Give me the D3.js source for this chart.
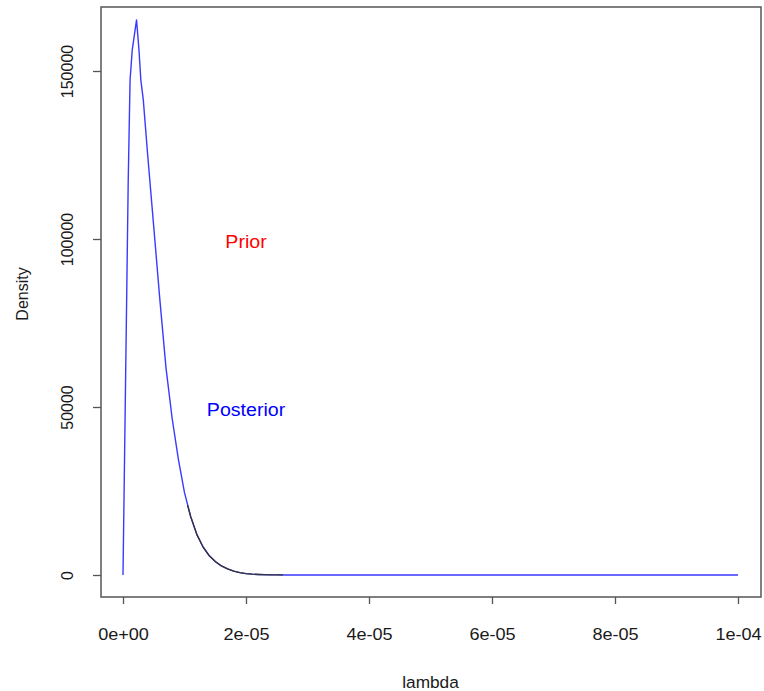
<!DOCTYPE html>
<html>
<head>
<meta charset="utf-8">
<script src="https://cdn.jsdelivr.net/npm/d3@7"></script>
<style>
  html, body { margin: 0; padding: 0; background: #fff; }
  svg { display: block; }
  text { font-family: "Liberation Sans", Arial, sans-serif; fill: #1a1a1a; }
</style>
</head>
<body>
<svg id="chart" width="764" height="691"></svg>
<script>
// ---- data ----
const lambda = [0, 0.85e-6, 1.15e-6, 1.5e-6, 2.2e-6, 2.6e-6, 2.9e-6, 3.3e-6, 4e-6, 5e-6,
  6e-6, 7e-6, 8e-6, 9e-6, 10e-6, 11e-6, 12e-6, 13e-6, 14e-6, 15e-6, 16e-6, 17e-6,
  18e-6, 19e-6, 20e-6, 21e-6, 22e-6, 23e-6, 24e-6, 25e-6, 26e-6,
  30e-6, 40e-6, 50e-6, 60e-6, 70e-6, 80e-6, 90e-6, 100e-6];
const posterior = [0, 117500, 147300, 156200, 165200, 156200, 147300, 141400, 125300, 103600,
  81800, 61500, 46500, 34500, 24500, 17400, 12100, 8400, 5800, 4000, 2700, 1800,
  1150, 700, 420, 250, 150, 90, 50, 25, 10,
  0, 0, 0, 0, 0, 0, 0, 0];
// prior curve (drawn in black), visible over the tail
const priorLambda = [10.5e-6, 11e-6, 12e-6, 13e-6, 14e-6, 15e-6, 16e-6, 17e-6, 18e-6,
  19e-6, 20e-6, 21e-6, 22e-6, 23e-6, 24e-6, 25e-6, 26e-6];
const prior = [20800, 17400, 12100, 8400, 5800, 4000, 2700, 1800, 1150,
  700, 420, 250, 150, 90, 50, 25, 10];
const xTicks = [0, 2e-5, 4e-5, 6e-5, 8e-5, 1e-4];
const xTickLabels = ["0e+00", "2e-05", "4e-05", "6e-05", "8e-05", "1e-04"];
const yTicks = [0, 50000, 100000, 150000];
const yTickLabels = ["0", "50000", "100000", "150000"];
const annotations = [
  { x: 2e-5, y: 100000, text: "Prior", color: "#ff0000" },
  { x: 2e-5, y: 50000, text: "Posterior", color: "#0000ff" }
];

// ---- layout ----
const box = { left: 101, right: 761, top: 7, bottom: 597 };
const svg = d3.select("#chart");

const x = d3.scaleLinear().domain([0, 1e-4]).range([123, 738]);
const y = d3.scaleLinear().domain([0, 150000]).range([575, 71]);

// frame
svg.append("rect")
  .attr("x", box.left).attr("y", box.top)
  .attr("width", box.right - box.left).attr("height", box.bottom - box.top)
  .attr("fill", "none").attr("stroke", "#555").attr("stroke-width", 1.5);

// x axis
const xAxis = d3.axisBottom(x).tickValues(xTicks)
  .tickFormat((d, i) => xTickLabels[i]).tickSizeOuter(0).tickSize(7).tickPadding(0);
const gx = svg.append("g").attr("transform", `translate(0,${box.bottom})`).call(xAxis);
gx.select(".domain").attr("stroke-opacity", 0);
gx.selectAll(".tick line").attr("stroke", "#555").attr("stroke-width", 1.3);
gx.selectAll(".tick text")
  .attr("font-size", 16).attr("fill", "#1a1a1a")
  .attr("font-family", "Liberation Sans, Arial, sans-serif")
  .attr("y", null).attr("dy", null)
  .attr("dominant-baseline", "central")
  .attr("transform", "translate(0,37) scale(1.13,1.05)");

// y axis
const yAxis = d3.axisLeft(y).tickValues(yTicks)
  .tickFormat((d, i) => yTickLabels[i]).tickSizeOuter(0).tickSize(8).tickPadding(0);
const gy = svg.append("g").attr("transform", `translate(${box.left},0)`).call(yAxis);
gy.select(".domain").attr("stroke-opacity", 0);
gy.selectAll(".tick line").attr("stroke", "#555").attr("stroke-width", 1.3);
gy.selectAll(".tick text")
  .attr("font-size", 16).attr("fill", "#1a1a1a")
  .attr("font-family", "Liberation Sans, Arial, sans-serif")
  .attr("text-anchor", "middle").attr("dy", null).attr("x", null)
  .attr("transform", "translate(-34,0) rotate(-90)")
  .attr("dominant-baseline", "central");

// axis titles
svg.append("text")
  .attr("transform", `translate(${(x(0) + x(1e-4)) / 2},683) scale(1.08,1.05)`)
  .attr("text-anchor", "middle").attr("dominant-baseline", "central")
  .attr("font-size", 16).text("lambda");
svg.append("text")
  .attr("transform", `translate(22,${(box.top + box.bottom) / 2 - 8}) rotate(-90)`)
  .attr("text-anchor", "middle").attr("dominant-baseline", "central")
  .attr("font-size", 16).text("Density");

// curves
const line = d3.line().x(d => x(d[0])).y(d => y(d[1]));
svg.append("path")
  .datum(lambda.map((l, i) => [l, posterior[i]]))
  .attr("d", line).attr("fill", "none")
  .attr("stroke", "#3a3aff").attr("stroke-width", 1.4).attr("stroke-linejoin", "round");
svg.append("path")
  .datum(priorLambda.map((l, i) => [l, prior[i]]))
  .attr("d", line).attr("fill", "none")
  .attr("stroke", "#333").attr("stroke-width", 1.3).attr("stroke-linejoin", "round");

// annotations
svg.selectAll("text.ann").data(annotations).enter().append("text")
  .attr("class", "ann")
  .attr("transform", d => `translate(${x(d.x)},${y(d.y) + 3}) scale(1.12,1)`)
  .attr("text-anchor", "middle").attr("dominant-baseline", "central")
  .attr("font-size", 17.5).style("fill", d => d.color)
  .text(d => d.text);
</script>
</body>
</html>
